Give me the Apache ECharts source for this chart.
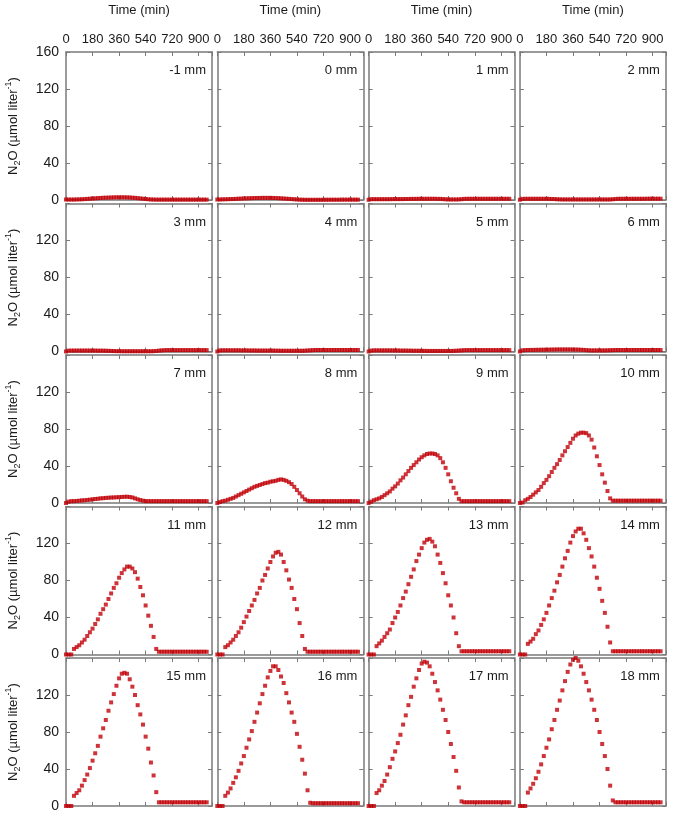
<!DOCTYPE html>
<html>
<head>
<meta charset="utf-8">
<script src="https://cdn.jsdelivr.net/npm/echarts@6/dist/echarts.min.js"></script>
<style>
  html, body { margin: 0; padding: 0; background: #fff; }
  #chart { width: 673px; height: 815px; }
</style>
</head>
<body>
<div id="chart"></div>
<script>
// sampling times (min)
const times = [0, 18, 36, 54, 72, 90, 108, 126, 144, 162, 180, 198, 216, 234, 252, 270, 288, 306, 324, 342,
  360, 378, 396, 414, 432, 450, 468, 486, 504, 522, 540, 558, 576, 594, 612, 630, 648, 666, 684, 702,
  720, 738, 756, 774, 792, 810, 828, 846, 864, 882, 900, 918, 936, 954];

// N2O (umol/l) per depth
const n2o_m1 = [0.5, 0.5, 0.5, 0.5, 0.6, 0.7, 0.8, 1.0, 1.2, 1.4,
  1.6, 1.8, 2.0, 2.2, 2.4, 2.5, 2.6, 2.7, 2.8, 2.9,
  2.9, 2.9, 2.9, 2.8, 2.7, 2.5, 2.3, 2.0, 1.7, 1.4,
  1.1, 0.8, 0.6, 0.5, 0.4, 0.4, 0.4, 0.4, 0.4, 0.4,
  0.4, 0.4, 0.4, 0.4, 0.4, 0.4, 0.4, 0.4, 0.4, 0.4, 0.4, 0.4, 0.4, 0.4];
const n2o_0 = [0.5, 0.6, 0.7, 0.8, 0.9, 1.0, 1.1, 1.2, 1.4, 1.5,
  1.7, 1.8, 1.9, 2.0, 2.1, 2.2, 2.2, 2.3, 2.3, 2.3,
  2.3, 2.2, 2.1, 2.0, 1.8, 1.6, 1.4, 1.2, 1.0, 0.8,
  0.6, 0.4, 0.3, 0.2, 0.2, 0.2, 0.2, 0.2, 0.2, 0.2,
  0.2, 0.3, 0.3, 0.3, 0.3, 0.3, 0.3, 0.4, 0.4, 0.4, 0.4, 0.4, 0.4, 0.4];
const n2o_1 = [0.2, 0.9, 0.9, 0.9, 0.9, 0.9, 0.9, 0.9, 0.9, 1.0,
  1.0, 1.0, 1.0, 1.0, 1.1, 1.1, 1.2, 1.2, 1.2, 1.3,
  1.3, 1.3, 1.3, 1.3, 1.3, 1.3, 1.2, 1.2, 1.0, 0.8,
  0.6, 0.6, 0.6, 0.6, 0.7, 0.9, 1.2, 1.3, 1.3, 1.3,
  1.3, 1.3, 1.3, 1.3, 1.3, 1.3, 1.3, 1.3, 1.3, 1.3, 1.3, 1.3, 1.3, 1.3];
const n2o_2 = [0.3, 1.2, 1.3, 1.3, 1.3, 1.3, 1.3, 1.3, 1.3, 1.3,
  1.3, 1.2, 1.1, 1.0, 0.8, 0.7, 0.6, 0.6, 0.6, 0.6,
  0.6, 0.6, 0.6, 0.6, 0.6, 0.6, 0.6, 0.6, 0.6, 0.6,
  0.6, 0.6, 0.6, 0.6, 0.6, 0.8, 1.1, 1.3, 1.3, 1.3,
  1.3, 1.3, 1.3, 1.3, 1.3, 1.3, 1.3, 1.3, 1.4, 1.4, 1.4, 1.4, 1.4, 1.4];
const n2o_3 = [0, 0.9, 1.0, 1.0, 1.0, 1.0, 1.0, 1.0, 1.0, 1.0,
  1.0, 1.0, 0.9, 0.9, 0.9, 0.8, 0.7, 0.6, 0.5, 0.4,
  0.4, 0.3, 0.3, 0.3, 0.3, 0.3, 0.3, 0.3, 0.3, 0.3,
  0.3, 0.3, 0.3, 0.4, 0.6, 0.9, 1.2, 1.4, 1.5, 1.5,
  1.5, 1.5, 1.5, 1.5, 1.5, 1.5, 1.5, 1.5, 1.5, 1.5, 1.5, 1.5, 1.5, 1.5];
const n2o_4 = [0, 1.2, 1.3, 1.3, 1.3, 1.3, 1.3, 1.3, 1.3, 1.2,
  1.2, 1.2, 1.1, 1.1, 1.1, 1.0, 1.0, 1.0, 1.0, 1.0,
  1.0, 1.0, 0.9, 0.9, 0.8, 0.8, 0.8, 0.8, 0.8, 0.8,
  0.8, 0.8, 0.8, 0.9, 1.1, 1.3, 1.5, 1.6, 1.6, 1.6,
  1.6, 1.6, 1.6, 1.6, 1.6, 1.6, 1.6, 1.6, 1.6, 1.6, 1.6, 1.6, 1.6, 1.6];
const n2o_5 = [0, 1.0, 1.2, 1.2, 1.2, 1.2, 1.2, 1.2, 1.2, 1.2,
  1.1, 1.1, 1.0, 1.0, 1.0, 0.9, 0.9, 0.8, 0.8, 0.8,
  0.7, 0.7, 0.6, 0.6, 0.6, 0.6, 0.6, 0.6, 0.6, 0.6,
  0.6, 0.6, 0.7, 0.8, 1.0, 1.2, 1.4, 1.5, 1.5, 1.5,
  1.5, 1.5, 1.5, 1.5, 1.5, 1.5, 1.5, 1.5, 1.5, 1.5, 1.5, 1.5, 1.5, 1.5];
const n2o_6 = [0, 1.3, 1.5, 1.6, 1.7, 1.7, 1.8, 1.8, 1.9, 1.9,
  2.0, 2.0, 2.1, 2.1, 2.2, 2.2, 2.2, 2.2, 2.2, 2.2,
  2.1, 2.1, 2.0, 1.9, 1.7, 1.5, 1.3, 1.2, 1.2, 1.2,
  1.2, 1.2, 1.2, 1.3, 1.4, 1.5, 1.6, 1.6, 1.6, 1.6,
  1.6, 1.6, 1.6, 1.6, 1.6, 1.6, 1.6, 1.6, 1.6, 1.6, 1.6, 1.6, 1.6, 1.6];
const n2o_7 = [0, 1.5, 2.0, 2.0, 2.2, 2.5, 2.8, 3.0, 3.3, 3.6,
  4.0, 4.3, 4.6, 5.0, 5.2, 5.5, 5.7, 5.9, 6.0, 6.2,
  6.3, 6.5, 6.7, 6.8, 6.5, 6.0, 5.0, 4.0, 3.2, 2.5,
  2.0, 2.0, 2.0, 2.0, 2.0, 2.0, 2.0, 2.0, 2.0, 2.0,
  2.0, 2.0, 2.0, 2.0, 2.0, 2.0, 2.0, 2.0, 2.0, 2.0, 2.0, 2.0, 2.0, 2.0];
const n2o_8 = [0, 1, 2, 2.5, 3.5, 4.5, 5.5, 7, 8.5, 10,
  11.5, 13, 14.5, 16, 17.5, 18.5, 19.5, 20.5, 21.5, 22,
  23, 23.5, 24, 25, 25.5, 25, 24, 22.5, 20.5, 17.5,
  14, 10.5, 7, 4, 2.5, 2, 2, 2, 2, 2,
  2, 2, 2, 2, 2, 2, 2, 2, 2, 2, 2, 2, 2, 2];
const n2o_9 = [0, 1.5, 3, 4, 5, 6.5, 8.5, 10.5, 12.5, 15.5,
  18, 21, 24.5, 27.5, 31, 34.5, 38, 41, 44, 47,
  49.5, 51.5, 53, 53.5, 53.5, 53, 51.5, 48.5, 44, 38,
  31, 23.5, 16.5, 10.5, 4.5, 2, 2, 2, 2, 2,
  2, 2, 2, 2, 2, 2, 2, 2, 2, 2, 2, 2, 2, 2];
const n2o_10 = [0, 0.5, 3, 4.5, 6.5, 9, 11.5, 14, 17.5, 21.5,
  25, 29, 33.5, 38, 42, 46.5, 51.5, 56, 60.5, 65,
  69.5, 73, 75, 76, 76, 75.5, 73, 68.5, 60, 50.5,
  41, 31, 22, 13, 5, 2.5, 2.5, 2.5, 2.5, 2.5,
  2.5, 2.5, 2.5, 2.5, 2.5, 2.5, 2.5, 2.5, 2.5, 2.5, 2.5, 2.5, 2.5, 2.5];
const n2o_11 = [0, 0, 0, 6, 8, 10, 13, 16, 20, 24,
  28, 33, 38, 44, 49, 54, 60, 66, 72, 77,
  83, 88, 92, 95, 95, 93, 89, 82, 73, 64,
  53, 42, 31, 19, 6, 3, 3, 3, 3, 3,
  3, 3, 3, 3, 3, 3, 3, 3, 3, 3, 3, 3, 3, 3];
const n2o_12 = [0, 0, 0, 8, 10, 13, 16, 20, 24, 29,
  35, 41, 47, 53, 59, 66, 72, 80, 86, 93,
  100, 106, 110, 111, 108, 100, 91, 81, 72, 60,
  49, 34, 20, 6, 3, 3, 3, 3, 3, 3,
  3, 3, 3, 3, 3, 3, 3, 3, 3, 3, 3, 3, 3, 3];
const n2o_13 = [0, 0, 0, 9, 12, 15, 19, 23, 27, 34,
  40, 46, 53, 61, 68, 76, 84, 92, 101, 108,
  115, 121, 124, 125, 122, 117, 108, 99, 88, 77,
  64, 53, 40, 23, 9, 3.5, 3.5, 3.5, 3.5, 3.5,
  3.5, 3.5, 3.5, 3.5, 3.5, 3.5, 3.5, 3.5, 3.5, 3.5, 3.5, 3.5, 3.5, 3.5];
const n2o_14 = [0, 0, 0, 11.5, 14, 17, 22, 26, 32, 38,
  45, 53, 61, 69, 78, 86, 95, 104, 112, 121,
  128, 133, 136, 136, 131, 124, 115, 106, 95, 83,
  71, 58, 45, 30, 13, 3.5, 3.5, 3.5, 3.5, 3.5,
  3.5, 3.5, 3.5, 3.5, 3.5, 3.5, 3.5, 3.5, 3.5, 3.5, 3.5, 3.5, 3.5, 3.5];
const n2o_15 = [0, 0, 0, 11, 14, 17, 22, 28, 34, 41,
  49, 57, 65, 75, 84, 93, 103, 112, 121, 130,
  138, 143, 144, 143, 137, 129, 120, 109, 99, 88,
  75, 62, 47, 33, 15, 4, 4, 4, 4, 4,
  4, 4, 4, 4, 4, 4, 4, 4, 4, 4, 4, 4, 4, 4];
const n2o_16 = [0, 0, 0, 11, 14.5, 19, 25, 31, 38, 46,
  54, 63, 72, 81, 91, 101, 111, 121, 130, 139,
  146, 151, 151, 147, 140, 133, 122, 112, 101, 91,
  78, 64, 50, 35, 17, 3.5, 3, 3, 3, 3,
  3, 3, 3, 3, 3, 3, 3, 3, 3, 3, 3, 3, 3, 3];
const n2o_17 = [0, 0, 0, 14, 17, 22, 27, 34, 42, 51,
  59, 68, 77, 88, 98, 109, 118, 129, 138, 147,
  154, 156, 155, 151, 143, 134, 125, 115, 104, 93,
  80, 67, 53, 38, 20, 5, 4, 4, 4, 4,
  4, 4, 4, 4, 4, 4, 4, 4, 4, 4, 4, 4, 4, 4];
const n2o_18 = [0, 0, 0, 14.5, 19, 24, 30, 37, 45, 54,
  63, 72, 83, 93, 104, 114, 125, 135, 145, 153,
  158, 160, 157, 151, 143, 134, 125, 115, 104, 93,
  80, 67, 54, 40, 22, 6, 4, 4, 4, 4,
  4, 4, 4, 4, 4, 4, 4, 4, 4, 4, 4, 4, 4, 4];

const panelNames = ['-1 mm', '0 mm', '1 mm', '2 mm', '3 mm', '4 mm', '5 mm', '6 mm', '7 mm', '8 mm',
  '9 mm', '10 mm', '11 mm', '12 mm', '13 mm', '14 mm', '15 mm', '16 mm', '17 mm', '18 mm'];
const panelData = [n2o_m1, n2o_0, n2o_1, n2o_2, n2o_3, n2o_4, n2o_5, n2o_6, n2o_7, n2o_8,
  n2o_9, n2o_10, n2o_11, n2o_12, n2o_13, n2o_14, n2o_15, n2o_16, n2o_17, n2o_18];

const xTickLabels = [0, 180, 360, 540, 720, 900];
const yTickLabels = [0, 40, 80, 120, 160];

const font = 'Liberation Sans, Arial, sans-serif';
const ink = '#1a1a1a';
const frame = '#7a7a7a';
const red = '#c00008';

let grids = [], xAxes = [], yAxes = [], series = [], titles = [];

for (let k = 0; k < panelData.length; k++) {
    let r = Math.floor(k / 4), c = k % 4;
    let left = 66 + c * 151.3, top = 52 + r * 151.5, w = 146, h = 148;
    grids.push({left: left, top: top, width: w, height: h});

    let line = {show: true, onZero: false, lineStyle: {color: frame, width: 1.5}};
    let tick = {show: true, inside: true, length: 4, lineStyle: {color: frame, width: 1}};

    xAxes.push({
        gridIndex: k, type: 'value', position: 'top', min: 0, max: 990, interval: 180,
        axisLine: line, axisTick: tick, splitLine: {show: false},
        axisLabel: {
            show: r === 0, margin: 6, fontSize: 13, color: ink, fontFamily: font,
            formatter: function (v) { return xTickLabels.indexOf(v) >= 0 ? String(v) : ''; }
        },
        name: r === 0 ? 'Time (min)' : '', nameLocation: 'middle', nameGap: 35,
        nameTextStyle: {fontSize: 13, color: ink, fontFamily: font}
    });
    xAxes.push({
        gridIndex: k, type: 'value', position: 'bottom', min: 0, max: 990, interval: 180,
        axisLine: line, axisTick: tick, splitLine: {show: false}, axisLabel: {show: false}
    });

    yAxes.push({
        gridIndex: k, type: 'value', position: 'left', min: 0, max: 160, interval: 40,
        axisLine: line, axisTick: tick, splitLine: {show: false},
        axisLabel: {
            show: c === 0, margin: 7, fontSize: 14, color: ink, fontFamily: font,
            formatter: function (v) {
                if (yTickLabels.indexOf(v) < 0) return '';
                return (r > 0 && v === 160) ? '' : String(v);
            }
        },
        name: c === 0 ? '{t|N}{s|2}{t|O (µmol liter}{p|-1}{t|)}' : '',
        nameLocation: 'middle', nameRotate: 90, nameGap: 44,
        nameTextStyle: {
            fontFamily: font, color: ink, fontSize: 13,
            rich: {
                t: {fontSize: 13, lineHeight: 18, verticalAlign: 'middle', fontFamily: font, color: ink},
                s: {fontSize: 9, lineHeight: 18, verticalAlign: 'bottom', fontFamily: font, color: ink},
                p: {fontSize: 9, lineHeight: 18, verticalAlign: 'top', fontFamily: font, color: ink}
            }
        }
    });
    yAxes.push({
        gridIndex: k, type: 'value', position: 'right', min: 0, max: 160, interval: 40,
        axisLine: line, axisTick: tick, splitLine: {show: false}, axisLabel: {show: false}
    });

    series.push({
        type: 'scatter', xAxisIndex: 2 * k, yAxisIndex: 2 * k,
        symbol: 'rect', symbolSize: 4, clip: false, silent: true,
        itemStyle: {color: red},
        data: times.map(function (t, i) { return [t, panelData[k][i]]; })
    });

    titles.push({
        text: panelNames[k], right: 673 - (left + w) + 6, top: top + 12, padding: 0,
        textStyle: {fontSize: 13, fontWeight: 'normal', color: ink, fontFamily: font}
    });
}

let myChart = echarts.init(document.getElementById('chart'));
myChart.setOption({
    animation: false,
    title: titles,
    grid: grids,
    xAxis: xAxes,
    yAxis: yAxes,
    series: series
});
</script>
</body>
</html>
